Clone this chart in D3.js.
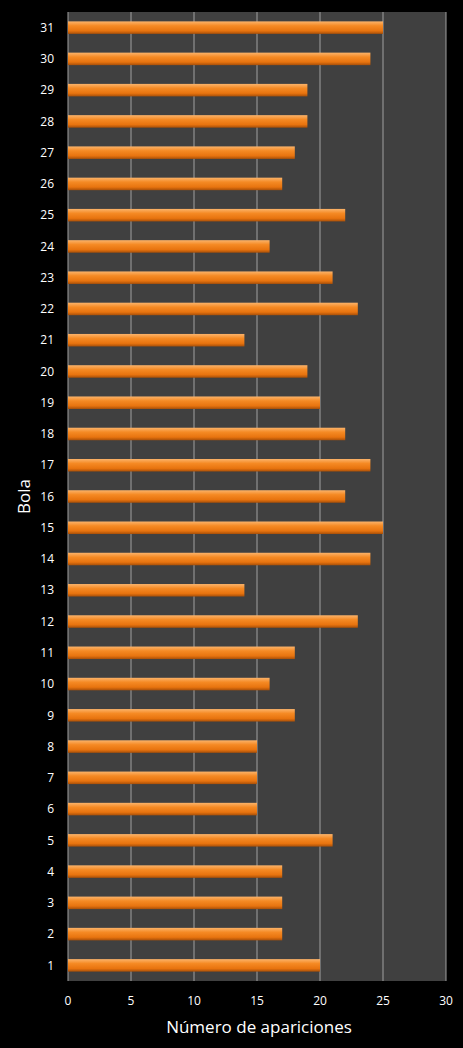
<!DOCTYPE html>
<html><head><meta charset="utf-8">
<script src="https://cdn.jsdelivr.net/npm/d3@7"></script>
<style>body{margin:0;background:#000}</style></head>
<body><svg id="c" width="463" height="1048"></svg>
<script>
const bolas = d3.range(1, 32).map(String);
const apariciones = [20,17,17,17,21,15,15,15,18,16,18,23,14,24,25,22,24,22,20,19,14,23,21,16,22,17,18,19,19,24,25];
const xTicks = [0,5,10,15,20,25,30];

const svg = d3.select('#c');
const margin = {top: 12, right: 17, bottom: 67, left: 68};
const width = 463, height = 1048;
const innerWidth = width - margin.left - margin.right;
const innerHeight = height - margin.top - margin.bottom;

const defs = svg.append('defs');
const grad = defs.append('linearGradient').attr('id', 'og').attr('x1', 0).attr('y1', 0).attr('x2', 0).attr('y2', 1);
grad.append('stop').attr('offset', '0%').attr('stop-color', '#fbb36a');
grad.append('stop').attr('offset', '35%').attr('stop-color', '#f58a24');
grad.append('stop').attr('offset', '75%').attr('stop-color', '#e8740f');
grad.append('stop').attr('offset', '100%').attr('stop-color', '#a84f08');

const g = svg.append('g').attr('transform', `translate(${margin.left},${margin.top})`);

const xScale = d3.scaleLinear().domain([0, 30]).range([0, innerWidth]);
const yScale = d3.scaleBand().domain(bolas.slice().reverse()).range([0, innerHeight]).paddingInner(0.6).paddingOuter(0.3);

g.append('rect').attr('width', innerWidth).attr('height', innerHeight).attr('fill', '#404040');

g.selectAll('.grid').data(xTicks).join('line')
	.attr('x1', d => xScale(d)).attr('x2', d => xScale(d))
	.attr('y1', 0).attr('y2', innerHeight)
	.attr('stroke', '#a0a0a0').attr('stroke-width', 1);

g.selectAll('.bar').data(bolas).join('rect')
	.attr('x', 0)
	.attr('y', d => yScale(d))
	.attr('width', (d, i) => xScale(apariciones[i]))
	.attr('height', yScale.bandwidth())
	.attr('fill', 'url(#og)');

g.selectAll('.ytick').data(bolas).join('text')
	.attr('x', -14).attr('y', d => yScale(d) + yScale.bandwidth() / 2)
	.attr('dy', '0.35em').attr('text-anchor', 'end')
	.attr('fill', '#fff').attr('font-family', 'Open Sans, sans-serif').attr('font-size', 12)
	.text(d => d);

g.selectAll('.xtick').data(xTicks).join('text')
	.attr('x', d => xScale(d)).attr('y', innerHeight + 24)
	.attr('text-anchor', 'middle')
	.attr('fill', '#fff').attr('font-family', 'Open Sans, sans-serif').attr('font-size', 12)
	.text(d => d);

g.append('text')
	.attr('x', innerWidth / 2 + 2).attr('y', innerHeight + 52)
	.attr('text-anchor', 'middle').attr('fill', '#fff')
	.attr('font-family', 'Open Sans, sans-serif').attr('font-size', 17)
	.text('Número de apariciones');

g.append('text')
	.attr('transform', `translate(${-38},${innerHeight / 2}) rotate(-90)`)
	.attr('text-anchor', 'middle').attr('fill', '#fff')
	.attr('font-family', 'Open Sans, sans-serif').attr('font-size', 17)
	.text('Bola');
</script></body></html>
